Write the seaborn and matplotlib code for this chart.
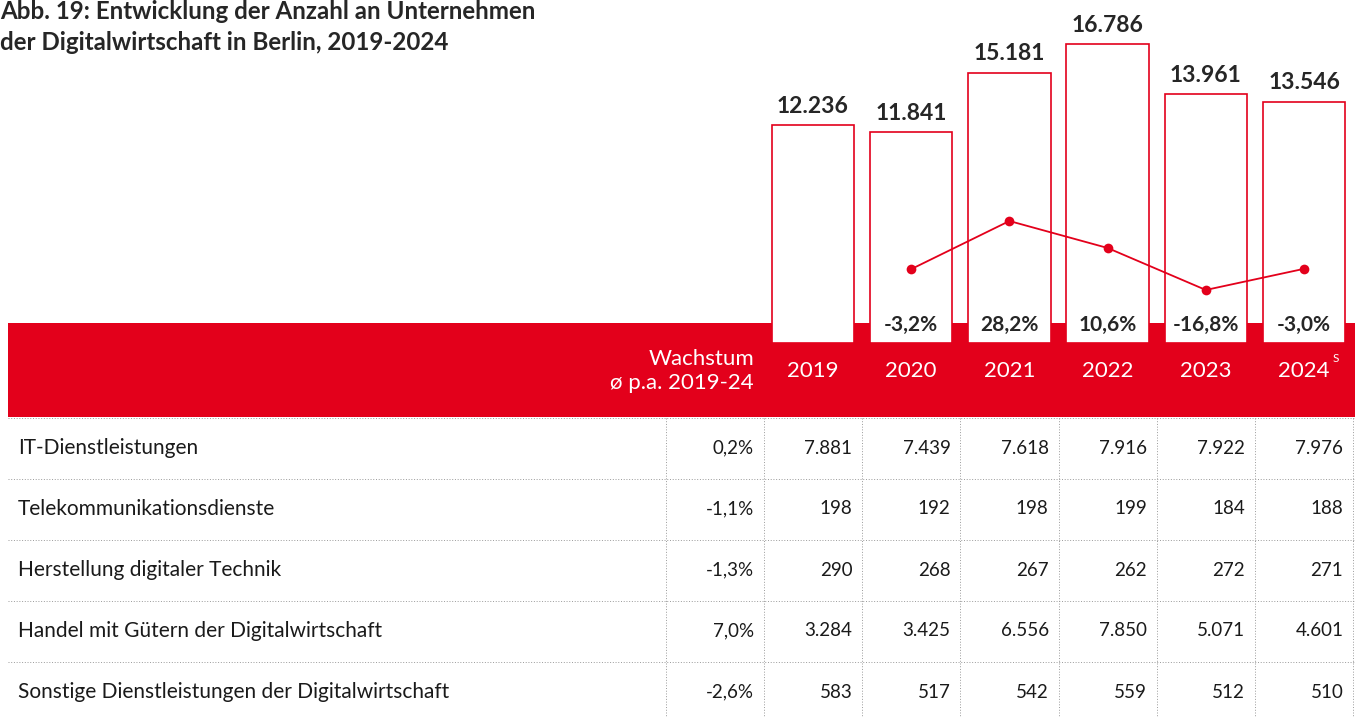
"""
Abb. 19: Entwicklung der Anzahl an Unternehmen der Digitalwirtschaft in Berlin.
Balken (Gesamtzahl) + Linie (Wachstum ggü. Vorjahr) + Tabelle nach Bereichen.
"""

import numpy as np
import matplotlib
matplotlib.use("Agg")
import matplotlib.pyplot as plt
from matplotlib.patches import Rectangle
import seaborn as sns

# ----------------------------------------------------------------------
# Daten
# ----------------------------------------------------------------------
jahre = ["2019", "2020", "2021", "2022", "2023", "2024"]
gesamt = [12236, 11841, 15181, 16786, 13961, 13546]
wachstum_vj = [-3.2, 28.2, 10.6, -16.8, -3.0]  # 2020 bis 2024

bereiche = [
    "IT-Dienstleistungen",
    "Telekommunikationsdienste",
    "Herstellung digitaler Technik",
    "Handel mit Gütern der Digitalwirtschaft",
    "Sonstige Dienstleistungen der Digitalwirtschaft",
]
wachstum_pa = [0.2, -1.1, -1.3, 7.0, -2.6]
it_dienst = [7881, 7439, 7618, 7916, 7922, 7976]
telekom = [198, 192, 198, 199, 184, 188]
herstellung = [290, 268, 267, 262, 272, 271]
handel = [3284, 3425, 6556, 7850, 5071, 4601]
sonstige = [583, 517, 542, 559, 512, 510]
werte = [it_dienst, telekom, herstellung, handel, sonstige]

ROT = "#e3001b"
GRAU = "#9a9a9a"


def de_zahl(v):
    return f"{v:,}".replace(",", ".")


def de_proz(v):
    return f"{v:.1f}".replace(".", ",") + "%"


sns.set_style("white")
plt.rcParams["font.family"] = ["Lato", "DejaVu Sans"]

W, H = 1362, 717
fig = plt.figure(figsize=(W / 100, H / 100), dpi=100)

# Spalteneinheiten: Mitte der Spalte i bei Pixel 813 + 98.2 * i
X0, DX = 813, 98.2
xlim = (-X0 / DX, (W - X0) / DX)
# Zeileneinheiten: Mitte der Zeile k bei Pixel 448 + 61 * k
Y0, DY = 448, 61
ylim = ((H - Y0) / DY, -Y0 / DY)


def px_x(p):
    return (p - X0) / DX


def px_y(p):
    return (p - Y0) / DY


# ----------------------------------------------------------------------
# Tabelle + roter Kopfbalken
# ----------------------------------------------------------------------
ax_tab = fig.add_axes([0, 0, 1, 1], zorder=0)
ax_tab.set_xlim(*xlim)
ax_tab.set_ylim(*ylim)
ax_tab.axis("off")

links, rechts = px_x(8), px_x(1355)
ax_tab.add_patch(Rectangle((links, px_y(323)), rechts - links, px_y(417) - px_y(323),
                           color=ROT, lw=0, zorder=1))

kopf_y = px_y(371)
for i, j in enumerate(jahre):
    ax_tab.text(i, kopf_y, j, ha="center", va="center", color="white", fontsize=16, zorder=3)
ax_tab.text(5 + 0.29, px_y(359), "S", ha="left", va="center", color="white", fontsize=8.5,
            zorder=3)
ax_tab.text(-0.6, kopf_y, "Wachstum\nø p.a. 2019-24", ha="right", va="center",
            multialignment="right", color="white", fontsize=16, linespacing=1.2, zorder=3)

linie = dict(color=GRAU, lw=0.7, linestyle=(0, (1, 1.8)), zorder=2)
ax_tab.hlines(np.arange(len(bereiche)) - 0.5, links, rechts, **linie)
ax_tab.vlines(np.arange(-1.5, len(jahre)), -0.5, ylim[0], **linie)

for k, name in enumerate(bereiche):
    ax_tab.text(px_x(18), k, name, ha="left", va="center", fontsize=15, color="#1a1a1a")
    ax_tab.text(-0.6, k, de_proz(wachstum_pa[k]), ha="right", va="center", fontsize=13.5,
                color="#1a1a1a")
    for i, v in enumerate(werte[k]):
        ax_tab.text(i + 0.4, k, de_zahl(v), ha="right", va="center", fontsize=13.5,
                    color="#1a1a1a")

# ----------------------------------------------------------------------
# Balken
# ----------------------------------------------------------------------
pos = [0, (H - 343) / H, 1, 343 / H]
ax_bar = fig.add_axes(pos, zorder=2)
sns.barplot(x=jahre, y=gesamt, ax=ax_bar, color="white", edgecolor=ROT, linewidth=1.2,
            width=0.84, saturation=1, errorbar=None)
ax_bar.set_xlim(*xlim)
ax_bar.set_ylim(0, 19257)
ax_bar.patch.set_visible(False)
ax_bar.axis("off")

for i, v in enumerate(gesamt):
    ax_bar.annotate(de_zahl(v), (i, v), xytext=(0, 9), textcoords="offset points",
                    ha="center", va="baseline", fontsize=16.5, fontweight="bold")
for i, g in enumerate(wachstum_vj, start=1):
    ax_bar.annotate(de_proz(g), (i, 0), xytext=(0, 8.6), textcoords="offset points",
                    ha="center", va="baseline", fontsize=15, fontweight="bold")

# ----------------------------------------------------------------------
# Linie: Wachstum ggü. Vorjahr
# ----------------------------------------------------------------------
ax_line = fig.add_axes(pos, zorder=3)
sns.lineplot(x=np.arange(1, len(jahre)), y=wachstum_vj, ax=ax_line, color=ROT, lw=1.3,
             marker="o", markersize=7, markeredgewidth=0)
ax_line.set_xlim(*xlim)
ax_line.set_ylim(-51.4, 172.4)
ax_line.patch.set_visible(False)
ax_line.axis("off")

# ----------------------------------------------------------------------
# Titel
# ----------------------------------------------------------------------
fig.text(0.0, 1 - 19 / H, "Abb. 19: Entwicklung der Anzahl an Unternehmen",
         ha="left", va="baseline", fontsize=17.4, fontweight="bold")
fig.text(0.0, 1 - 50 / H, "der Digitalwirtschaft in Berlin, 2019-2024",
         ha="left", va="baseline", fontsize=17.4, fontweight="bold")

fig.savefig("out.png", dpi=100)
